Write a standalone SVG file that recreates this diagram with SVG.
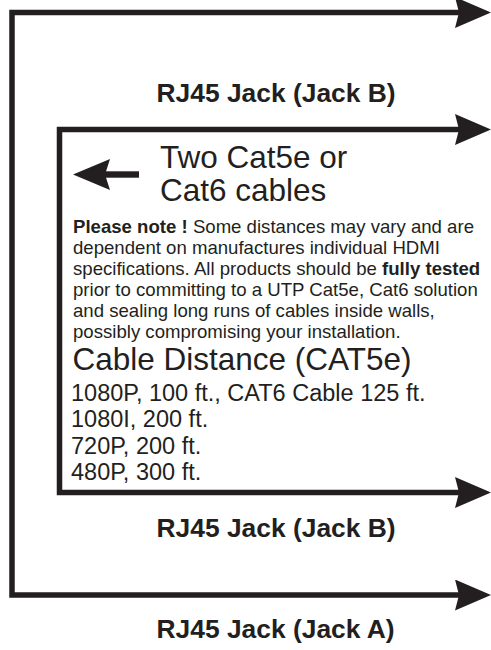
<svg xmlns="http://www.w3.org/2000/svg" width="491" height="650" viewBox="0 0 491 650">
<style>
.t{font-family:"Liberation Sans",Arial,sans-serif;fill:#231f20}
.lbl{font-size:26.4px;font-weight:bold}
.big{font-size:31.5px}
.para{font-size:18.6px}
.dist{font-size:23.5px}
.b{font-weight:bold}
.wire{fill:none;stroke:#231f20;stroke-width:5.5;stroke-linejoin:miter;marker-start:url(#ah);marker-end:url(#ah)}
</style>
<defs>
<marker id="ah" markerUnits="userSpaceOnUse" viewBox="0 0 36 31" markerWidth="36" markerHeight="31" refX="15" refY="15.5" orient="auto-start-reverse">
<polygon points="0,0 36,15.5 0,31 4,15.5" fill="#231f20"/>
</marker>
</defs>
<rect width="491" height="650" fill="#ffffff"/>
<g id="connectors">
<path id="cable-a" class="wire" d="M470,12.5 H12 V595 H470"/>
<path id="cable-b" class="wire" d="M470,129.5 H59.5 V492.5 H470"/>
</g>
<g id="jack-b-top">
<text class="t lbl" x="156.5" y="102">RJ45 Jack (Jack B)</text>
</g>
<g id="cable-note">
<rect x="104" y="171.3" width="35" height="6.4" fill="#231f20"/>
<polygon points="73,174.5 110,159 105,174.5 110,190" fill="#231f20"/>
<text class="t big" x="160" y="167.5">Two Cat5e or</text>
<text class="t big" x="160" y="201">Cat6 cables</text>
</g>
<g id="please-note">
<text class="t para" x="73" y="232.8"><tspan class="b">Please note !</tspan> Some distances may vary and are</text>
<text class="t para" x="73" y="253.8">dependent on manufactures individual HDMI</text>
<text class="t para" x="73" y="274.8">specifications. All products should be <tspan class="b">fully tested</tspan></text>
<text class="t para" x="73" y="295.8">prior to committing to a UTP Cat5e, Cat6 solution</text>
<text class="t para" x="73" y="316.8">and sealing long runs of cables inside walls,</text>
<text class="t para" x="73" y="337.8">possibly compromising your installation.</text>
</g>
<g id="cable-distance">
<text class="t big" x="72.5" y="370">Cable Distance (CAT5e)</text>
<text class="t dist" x="71" y="400.5">1080P, 100 ft., CAT6 Cable 125 ft.</text>
<text class="t dist" x="71" y="427">1080I, 200 ft.</text>
<text class="t dist" x="71" y="453.5">720P, 200 ft.</text>
<text class="t dist" x="71" y="480">480P, 300 ft.</text>
</g>
<g id="jack-b-bottom">
<text class="t lbl" x="156.5" y="536.5">RJ45 Jack (Jack B)</text>
</g>
<g id="jack-a">
<text class="t lbl" x="156.5" y="638">RJ45 Jack (Jack A)</text>
</g>
</svg>
